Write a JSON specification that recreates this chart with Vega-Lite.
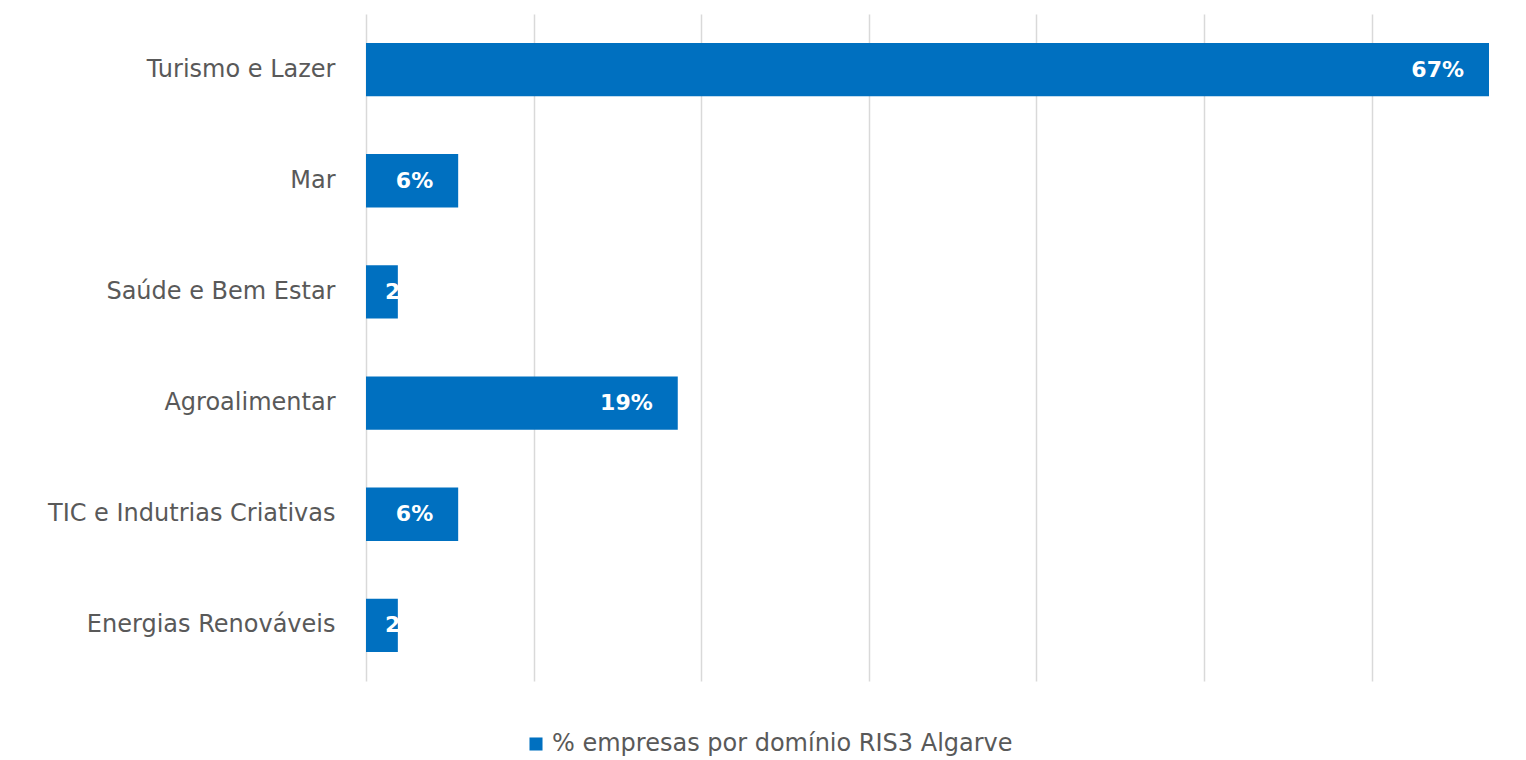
{
  "$schema": "https://vega.github.io/schema/vega-lite/v6.json",
  "autosize": {"type": "none"},
  "width": 1123,
  "height": 667,
  "padding": {"left": 366, "top": 14, "right": 37, "bottom": 79},
  "background": "white",
  "data": {
    "values": [
      {"categoria": "Turismo e Lazer", "valor": 0.67, "serie": "% empresas por domínio RIS3 Algarve"},
      {"categoria": "Mar", "valor": 0.055, "serie": "% empresas por domínio RIS3 Algarve"},
      {"categoria": "Saúde e Bem Estar", "valor": 0.019, "serie": "% empresas por domínio RIS3 Algarve"},
      {"categoria": "Agroalimentar", "valor": 0.186, "serie": "% empresas por domínio RIS3 Algarve"},
      {"categoria": "TIC e Indutrias Criativas", "valor": 0.055, "serie": "% empresas por domínio RIS3 Algarve"},
      {"categoria": "Energias Renováveis", "valor": 0.019, "serie": "% empresas por domínio RIS3 Algarve"}
    ]
  },
  "encoding": {
    "y": {
      "field": "categoria",
      "type": "nominal",
      "sort": null,
      "scale": {"paddingInner": 0.52, "paddingOuter": 0.26},
      "axis": {
        "title": null,
        "domain": false,
        "ticks": false,
        "labelPadding": 31,
        "labelFontSize": 24,
        "labelFont": "DejaVu Sans",
        "labelColor": "#595959",
        "labelLimit": 400
      }
    },
    "x": {
      "field": "valor",
      "type": "quantitative",
      "scale": {"domain": [0, 0.67], "nice": false},
      "axis": {
        "title": null,
        "labels": false,
        "ticks": false,
        "domain": false,
        "values": [0, 0.1, 0.2, 0.3, 0.4, 0.5, 0.6],
        "grid": true,
        "gridColor": "#d9d9d9",
        "gridWidth": 1.5
      }
    }
  },
  "layer": [
    {
      "mark": {"type": "bar", "color": "#0070C0"},
      "encoding": {
        "color": {
          "field": "serie",
          "type": "nominal",
          "scale": {"range": ["#0070C0"]},
          "legend": {
            "title": null,
            "orient": "none",
            "legendX": 158,
            "legendY": 718,
            "symbolType": "square",
            "symbolSize": 170,
            "symbolStrokeWidth": 0,
            "labelFontSize": 24,
            "labelFont": "DejaVu Sans",
            "labelColor": "#595959",
            "labelLimit": 700
          }
        }
      }
    },
    {
      "transform": [{"filter": "datum.valor > 0.03"}],
      "mark": {"type": "text", "align": "right", "dx": -25, "color": "white", "fontWeight": "bold", "fontSize": 22, "font": "DejaVu Sans"},
      "encoding": {
        "text": {"field": "valor", "type": "quantitative", "format": ".0%"}
      }
    },
    {
      "transform": [{"filter": "datum.valor <= 0.03"}],
      "mark": {"type": "text", "align": "left", "dx": 19, "color": "white", "fontWeight": "bold", "fontSize": 22, "font": "DejaVu Sans"},
      "encoding": {
        "x": {"datum": 0, "type": "quantitative"},
        "text": {"field": "valor", "type": "quantitative", "format": ".0%"}
      }
    }
  ],
  "config": {"view": {"stroke": null}}
}
